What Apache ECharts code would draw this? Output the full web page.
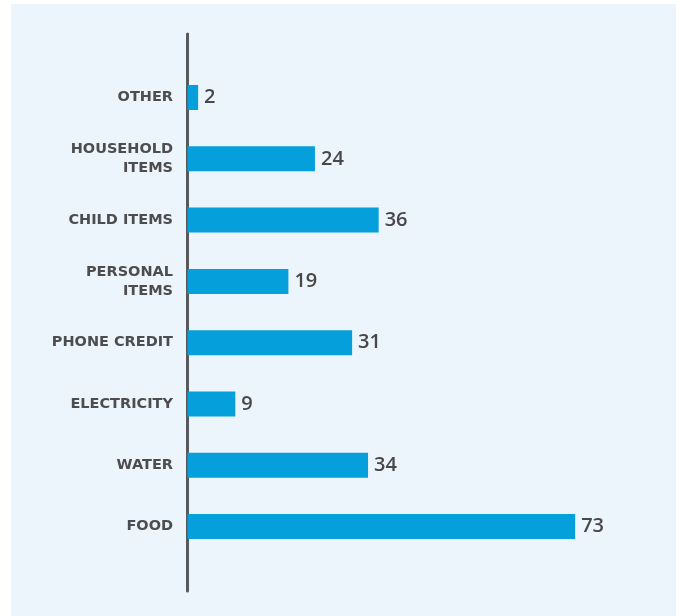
<!DOCTYPE html>
<html>
<head>
<meta charset="utf-8">
<script src="https://cdn.jsdelivr.net/npm/echarts@6/dist/echarts.min.js"></script>
<style>
  html, body { margin: 0; padding: 0; background: #ffffff; }
  #panel { position: absolute; left: 11px; top: 4px; width: 665px; height: 612px; background: #ecf4fc; }
  #chart { position: absolute; left: 0; top: 0; width: 681px; height: 616px; }
</style>
</head>
<body>
<div id="panel"></div>
<div id="chart"></div>
<script>
const categories = ['OTHER', 'HOUSEHOLD\nITEMS', 'CHILD ITEMS', 'PERSONAL\nITEMS', 'PHONE CREDIT', 'ELECTRICITY', 'WATER', 'FOOD'];
const values = [2, 24, 36, 19, 31, 9, 34, 73];

const chart = echarts.init(document.getElementById('chart'), null, { renderer: 'canvas' });
chart.setOption({
  backgroundColor: 'transparent',
  animation: false,
  grid: [
    { left: 187.5, right: 68.7, top: 66.85, bottom: 58.75, containLabel: false },
    { left: 187.5, right: 68.7, top: 34, bottom: 25, containLabel: false }
  ],
  xAxis: [
    { gridIndex: 0, type: 'value', min: 0, max: 80, show: false },
    { gridIndex: 1, type: 'value', min: 0, max: 80, show: false }
  ],
  yAxis: [
    {
      gridIndex: 0,
      type: 'category',
      inverse: true,
      data: categories,
      axisLine: { show: false },
      axisTick: { show: false },
      axisLabel: {
        margin: 14.5,
        color: '#4d4d4f',
        fontFamily: 'DejaVu Sans',
        fontWeight: 'bold',
        fontSize: 14.5,
        lineHeight: 19,
        align: 'right'
      }
    },
    {
      gridIndex: 1,
      type: 'value',
      min: 0, max: 1,
      axisLine: { show: true, lineStyle: { color: '#58595b', width: 3 } },
      axisTick: { show: false },
      axisLabel: { show: false },
      splitLine: { show: false }
    }
  ],
  series: [
    {
      type: 'bar',
      xAxisIndex: 0,
      yAxisIndex: 0,
      data: values,
      barWidth: 25,
      itemStyle: { color: '#059fdb' },
      label: {
        show: true,
        position: 'right',
        distance: 6,
        color: '#48484a',
        fontFamily: 'Open Sans',
        fontWeight: 600,
        fontSize: 20
      }
    }
  ]
});
</script>
</body>
</html>
